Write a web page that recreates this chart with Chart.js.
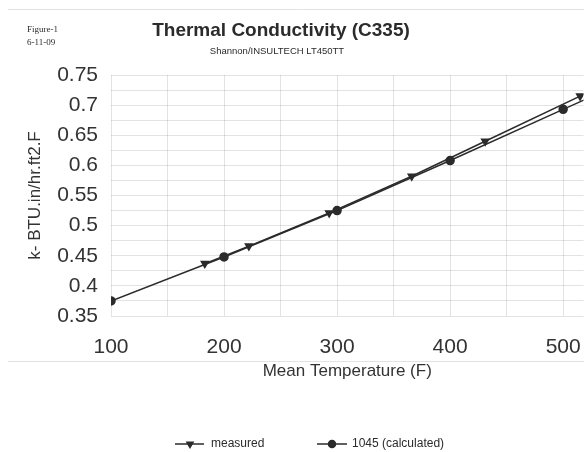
<!DOCTYPE html>
<html>
<head>
<meta charset="utf-8">
<script src="https://cdn.jsdelivr.net/npm/chart.js@4"></script>
<style>
  html, body { margin: 0; padding: 0; background: #fff; overflow: hidden; }
  #wrap { width: 584px; height: 452px; position: relative; overflow: hidden; }
</style>
</head>
<body>
<div id="wrap"><canvas id="chart" width="589" height="452"></canvas></div>
<script>
// -------------------------------------------------------------
// DATA
// -------------------------------------------------------------
const measuredTemps = [183, 222, 293, 366, 431, 515];
const measuredK     = [0.437, 0.466, 0.521, 0.582, 0.640, 0.715];

const calcTemps = [100, 200, 300, 400, 500, 550];
const calcK     = [0.375, 0.448, 0.525, 0.608, 0.693, 0.735];

const xTickLabels = [100, 200, 300, 400, 500];
const yTickLabels = [0.35, 0.4, 0.45, 0.5, 0.55, 0.6, 0.65, 0.7, 0.75];

const seriesNames = ["measured", "1045 (calculated)"];

const toPoints = (xs, ys) => xs.map((x, i) => ({ x, y: ys[i] }));

const INK = "#2b2b2b";
const SANS = "'Liberation Sans', Arial, sans-serif";

// -------------------------------------------------------------
// DECOR (titles, stamp, legend, frame lines)
// -------------------------------------------------------------
const decor = {
  id: "decor",
  beforeDraw(chart) {
    const c = chart.ctx;
    c.save();
    c.strokeStyle = "#e2e2e2";
    c.lineWidth = 1;
    c.beginPath();
    c.moveTo(8, 9.5); c.lineTo(589, 9.5);
    c.moveTo(8, 361.5); c.lineTo(589, 361.5);
    c.stroke();
    c.restore();
  },
  afterDraw(chart) {
    const c = chart.ctx;
    c.save();
    c.fillStyle = INK;
    c.textBaseline = "alphabetic";

    // stamp
    c.font = "9px 'Liberation Serif', 'Times New Roman', serif";
    c.textAlign = "left";
    c.fillText("Figure-1", 27, 32);
    c.fillText("6-11-09", 27, 45);

    // title + subtitle
    c.textAlign = "center";
    c.font = "bold 19px " + SANS;
    c.fillText("Thermal Conductivity (C335)", 281, 36);
    c.font = "9.5px " + SANS;
    c.fillText("Shannon/INSULTECH LT450TT", 277, 54);

    // legend
    const y = 444;
    const items = [
      { x0: 175, x1: 204, mx: 190, style: "triangle", rot: 180, tx: 211, label: seriesNames[0] },
      { x0: 317, x1: 347, mx: 332, style: "circle", rot: 0, tx: 352, label: seriesNames[1] }
    ];
    c.font = "12px " + SANS;
    c.textAlign = "left";
    c.textBaseline = "middle";
    items.forEach(it => {
      c.strokeStyle = INK;
      c.lineWidth = 1.5;
      c.beginPath();
      c.moveTo(it.x0, y); c.lineTo(it.x1, y);
      c.stroke();
      Chart.helpers.drawPoint(c, { pointStyle: it.style, rotation: it.rot, radius: 3.5, borderWidth: 1 }, it.mx, y);
      c.fillStyle = INK;
      c.fill();
      c.fillText(it.label, it.tx, y);
    });
    c.restore();
  }
};

// -------------------------------------------------------------
// CHART
// -------------------------------------------------------------
new Chart(document.getElementById("chart"), {
  type: "line",
  data: {
    datasets: [
      {
        label: seriesNames[0],
        data: toPoints(measuredTemps, measuredK),
        borderColor: INK,
        backgroundColor: INK,
        borderWidth: 1.5,
        pointStyle: "triangle",
        rotation: 180,
        pointRadius: 4,
        tension: 0
      },
      {
        label: seriesNames[1],
        data: toPoints(calcTemps, calcK),
        borderColor: INK,
        backgroundColor: INK,
        borderWidth: 1.5,
        pointStyle: "circle",
        pointRadius: 4,
        tension: 0
      }
    ]
  },
  options: {
    responsive: false,
    animation: false,
    devicePixelRatio: 1,
    layout: { padding: { top: 75, left: 21, right: 0, bottom: 66 } },
    plugins: {
      legend: { display: false },
      title: { display: false },
      tooltip: { enabled: false }
    },
    scales: {
      x: {
        type: "linear",
        min: 100,
        max: 518,
        border: { display: false },
        grid: { color: "rgba(0,0,0,0.11)", drawTicks: false },
        ticks: {
          stepSize: 50,
          includeBounds: false,
          padding: 19,
          color: "#333",
          font: { family: SANS, size: 21 },
          autoSkip: false,
          maxRotation: 0,
          callback: v => xTickLabels.includes(v) ? String(v) : ""
        },
        title: {
          display: true,
          text: "Mean Temperature (F)",
          color: "#333",
          font: { family: SANS, size: 17 },
          padding: { top: 0, bottom: 4 }
        },
        afterFit(scale) {
          scale.height = 70;
          scale.paddingRight = 0;
        }
      },
      y: {
        min: 0.35,
        max: 0.75,
        border: { display: false },
        grid: { color: "rgba(0,0,0,0.11)", drawTicks: false },
        ticks: {
          stepSize: 0.025,
          padding: 13,
          color: "#333",
          font: { family: SANS, size: 21 },
          autoSkip: false,
          callback: v => {
            const r = Math.round(v * 1000) / 1000;
            return yTickLabels.some(t => Math.abs(t - r) < 1e-6) ? String(r) : "";
          }
        },
        title: {
          display: true,
          text: "k- BTU.in/hr.ft2.F",
          color: "#333",
          font: { family: SANS, size: 17 },
          padding: { top: 4, bottom: 0 }
        },
        afterFit(scale) { scale.width = 90; }
      }
    }
  },
  plugins: [decor]
});
</script>
</body>
</html>
